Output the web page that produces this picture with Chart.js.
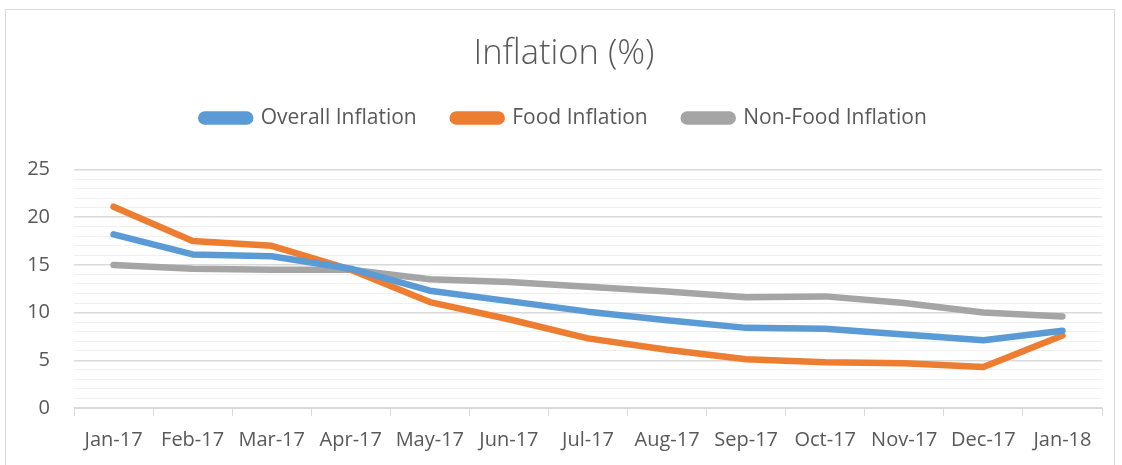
<!DOCTYPE html>
<html>
<head>
<meta charset="utf-8">
<script src="https://cdn.jsdelivr.net/npm/chart.js@4/dist/chart.umd.min.js"></script>
<style>
  html, body { margin: 0; padding: 0; background: #fff; }
  #frame { position: absolute; left: 5px; top: 9px; width: 1108px; height: 470px; border: 1px solid #d9d9d9; }
  #wrap { position: absolute; left: 0; top: 0; width: 1122px; height: 465px; }
</style>
</head>
<body>
<div id="frame"></div>
<div id="wrap"><canvas id="lineChart"></canvas></div>
<script>
var months = ['Jan-17', 'Feb-17', 'Mar-17', 'Apr-17', 'May-17', 'Jun-17', 'Jul-17',
              'Aug-17', 'Sep-17', 'Oct-17', 'Nov-17', 'Dec-17', 'Jan-18'];
var overallInflation = [18.2, 16.1, 15.9, 14.6, 12.3, 11.2, 10.1, 9.2, 8.4, 8.3, 7.7, 7.1, 8.1];
var foodInflation    = [21.1, 17.5, 17.0, 14.5, 11.1, 9.3, 7.3, 6.1, 5.1, 4.8, 4.7, 4.3, 7.6];
var nonFoodInflation = [15.0, 14.6, 14.5, 14.5, 13.5, 13.2, 12.7, 12.2, 11.6, 11.7, 11.0, 10.0, 9.6];

var textColor = '#595959';
var fontFamily = "'Open Sans', 'Liberation Sans', sans-serif";

function series(label, data, color) {
    return {
        label: label,
        data: data,
        borderColor: color,
        backgroundColor: color,
        borderWidth: 6.5,
        borderCapStyle: 'round',
        borderJoinStyle: 'round',
        pointRadius: 0,
        tension: 0
    };
}

var ctx = document.getElementById('lineChart').getContext('2d');
var chart = new Chart(ctx, {
    type: 'line',
    data: {
        labels: months,
        datasets: [
            series('Overall Inflation', overallInflation, '#5b9bd5'),
            series('Food Inflation', foodInflation, '#ed7d31'),
            series('Non-Food Inflation', nonFoodInflation, '#a5a5a5')
        ]
    },
    options: {
        responsive: true,
        maintainAspectRatio: false,
        animation: false,
        layout: { padding: { left: 26, right: 20, top: 0, bottom: 0 } },
        plugins: {
            title: {
                display: true,
                text: 'Inflation (%)',
                color: textColor,
                font: { family: fontFamily, size: 34.5, weight: '300', lineHeight: 1 },
                padding: { top: 37, bottom: 0 }
            },
            legend: {
                position: 'top',
                labels: {
                    color: textColor,
                    font: { family: fontFamily, size: 21 },
                    boxWidth: 49,
                    boxHeight: 7,
                    useBorderRadius: true,
                    borderRadius: 3.5,
                    padding: 36
                }
            },
            tooltip: { enabled: false }
        },
        scales: {
            x: {
                offset: true,
                afterFit: function (scale) { scale.height = 57; },
                grid: {
                    offset: true,
                    drawOnChartArea: false,
                    drawTicks: true,
                    tickLength: 8,
                    color: '#d9d9d9'
                },
                border: { color: '#d9d9d9', width: 1 },
                ticks: {
                    color: textColor,
                    font: { family: fontFamily, size: 20 },
                    maxRotation: 0,
                    autoSkip: false,
                    padding: 12
                }
            },
            y: {
                min: 0,
                max: 25,
                afterFit: function (scale) { scale.width = 48; },
                grid: {
                    drawTicks: false,
                    color: function (c) {
                        return c.tick.value % 5 === 0 ? '#d9d9d9' : '#f0f0f0';
                    },
                    lineWidth: function (c) {
                        return c.tick.value % 5 === 0 ? 1.5 : 1;
                    }
                },
                border: { display: false },
                ticks: {
                    stepSize: 1,
                    autoSkip: false,
                    padding: 24,
                    color: textColor,
                    font: { family: fontFamily, size: 20 },
                    callback: function (v) { return v % 5 === 0 ? v : ''; }
                }
            }
        }
    }
});

// extra room under the legend, like the spreadsheet layout
var legendFit = chart.legend.fit;
chart.legend.fit = function () {
    legendFit.call(this);
    this.height += 31;
};
chart.update();
</script>
</body>
</html>
